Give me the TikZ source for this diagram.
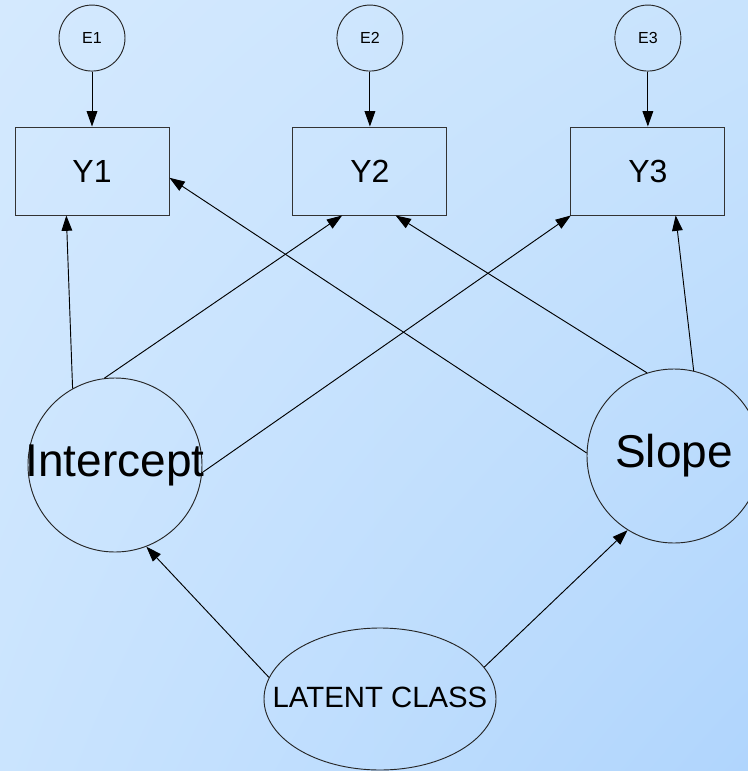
\documentclass[tikz,border=0pt]{standalone}
\usepackage{fontspec}
\setmainfont{Liberation Sans}
\usetikzlibrary{positioning,shapes.geometric,arrows.meta,shadings}

\definecolor{bgUL}{RGB}{212,233,254}
\definecolor{bgUR}{RGB}{200,227,253}
\definecolor{bgLL}{RGB}{202,228,254}
\definecolor{bgLR}{RGB}{176,213,253}

\begin{document}
\begin{tikzpicture}[%
		x=0.75pt,
		y=-0.75pt,
		->,
		>={Triangle[length=11.5pt,width=8pt]},
		line width=0.7pt,
		node distance=41.25pt and 92.25pt,
		indicator/.style={%
			rectangle,
			draw=black!80,
			minimum width=115.5pt,
			minimum height=66pt,
			font=\fontsize{24}{28}\selectfont
		},
		errvar/.style={%
			circle,
			draw=black!85,
			minimum size=49.5pt,
			inner sep=0pt,
			font=\fontsize{12}{14}\selectfont
		},
		growth/.style={%
			circle,
			draw=black!85,
			minimum size=130.5pt,
			inner sep=0pt,
			label={[font=\fontsize{34.5}{40}\selectfont]center:#1}
		},
		classvar/.style={%
			ellipse,
			draw=black!85,
			minimum width=174pt,
			minimum height=106.5pt,
			inner sep=0pt,
			label={[font=\fontsize{22}{26}\selectfont, yshift=1.5pt]center:#1}
		}
		]
		% background
		\useasboundingbox (0,0) rectangle (748,771);
		\clip (0,0) rectangle (748,771);
		\shade[upper left=bgUL, upper right=bgUR, lower left=bgLL, lower right=bgLR]
			(0,0) rectangle (748,771);

		% observed measures and their errors
		\node[indicator] (y1) at (92,171)                             {Y1};
		\node[indicator] (y2) [right=of y1]                           {Y2};
		\node[indicator] (y3) [right=of y2]                           {Y3};
		\node[errvar] (e1) [above=of y1]                              {E1};
		\node[errvar] (e2) [above=of y2]                              {E2};
		\node[errvar] (e3) [above=of y3]                              {E3};

		% growth factors and the class variable
		\node[growth=Intercept] (icpt) at (115,465)                   {};
		\node[growth=Slope] (slope) at (674,456)                      {};
		\node[classvar=LATENT CLASS] (lclass) at (380,699)            {};

		\path (e1) edge             									(y1)
		(e2) edge 											(y2)
		(e3) edge 											(y3)
		(icpt.119) edge										(y1.240)
		(icpt.97) edge 										(y2.238)
		(icpt.-5) edge 										(y3.210)
		(slope.178) edge 									(y1.-5)
		(slope.108) edge 									(y2.300)
		(slope.77) edge 									(y3.-58)
		(lclass.169) edge 									(icpt.-69)
		(lclass.17) edge 									(slope.-122);
		\end{tikzpicture}
\end{document}
